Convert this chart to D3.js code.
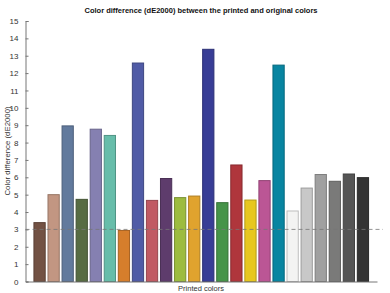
<!DOCTYPE html>
<head>
<title>Color difference</title>
<style>
  body { margin: 0; background: #fff; }
  svg text { font-family: "Liberation Sans", Arial, sans-serif; }
</style>
</head>
<body>
<svg width="390" height="293" id="chart"></svg>
<script src="https://d3js.org/d3.v7.min.js"></script>
<script>
// ColorChecker patches, in print order
var patchNames = ["dark skin", "light skin", "blue sky", "foliage", "blue flower", "bluish green",
  "orange", "purplish blue", "moderate red", "purple", "yellow green", "orange yellow",
  "blue", "green", "red", "yellow", "magenta", "cyan",
  "white", "neutral 8", "neutral 6.5", "neutral 5", "neutral 3.5", "black"];
var patchColors = ["#735244", "#c29682", "#627a9d", "#576c43", "#8580b1", "#67bdaa",
  "#d67e2c", "#505ba6", "#c15a63", "#5e3c6c", "#9dbc40", "#e0a32e",
  "#383d96", "#469449", "#af363c", "#e7c71f", "#bb5695", "#0885a1",
  "#f3f3f2", "#c8c8c8", "#a0a0a0", "#7a7a79", "#555555", "#343434"];
var dE = [3.39, 5.0, 8.96, 4.73, 8.77, 8.41,
  2.94, 12.58, 4.67, 5.93, 4.83, 4.92,
  13.37, 4.54, 6.71, 4.69, 5.81, 12.46,
  4.06, 5.38, 6.16, 5.77, 6.19, 5.98];
var yTicks = d3.range(0, 16);
var threshold = 3;

var svg = d3.select("#chart");

var x = d3.scaleLinear().domain([0, 25]).range([25.5, 377]);
var y = d3.scaleLinear().domain([0, 15]).range([281.5, 21]);
var barW = x(0.8) - x(0);

// bars
svg.selectAll(".bar")
  .data(dE)
  .enter().append("rect")
  .attr("class", "bar")
  .attr("x", function(d, i) { return x(i + 1) - barW / 2; })
  .attr("y", function(d) { return y(d); })
  .attr("width", barW)
  .attr("height", function(d) { return y(0) - y(d); })
  .style("fill", function(d, i) { return patchColors[i]; })
  .style("stroke", function(d, i) { return d3.color(patchColors[i]).darker(0.7); })
  .style("stroke-width", 1);

// threshold line
svg.append("line")
  .attr("x1", x(0)).attr("x2", 383)
  .attr("y1", y(threshold)).attr("y2", y(threshold))
  .style("stroke", "#777")
  .style("stroke-width", 0.8)
  .style("stroke-dasharray", "4,3");

// y axis, ticks pointing inward
var yAxis = svg.append("g")
  .attr("transform", "translate(" + x(0) + ",0)")
  .call(d3.axisLeft(y).tickValues(yTicks).tickSize(-3).tickPadding(7));
yAxis.select(".domain").style("stroke", "#777");
yAxis.selectAll(".tick line").style("stroke", "#777");
yAxis.selectAll(".tick text").style("font-size", "8px").style("fill", "#333");

// x axis line only
var xAxis = svg.append("g")
  .attr("transform", "translate(0," + y(0) + ")")
  .call(d3.axisBottom(x).tickValues([]).tickSizeOuter(0));
xAxis.select(".domain").style("stroke", "#777");

svg.append("text")
  .attr("x", 201).attr("y", 13)
  .attr("text-anchor", "middle")
  .style("font-size", "7.5px")
  .style("font-weight", "bold")
  .style("fill", "#111")
  .text("Color difference (dE2000) between the printed and original colors");

svg.append("text")
  .attr("x", 201).attr("y", 291)
  .attr("text-anchor", "middle")
  .style("font-size", "7.5px")
  .style("fill", "#333")
  .text("Printed colors");

svg.append("text")
  .attr("transform", "translate(10,151) rotate(-90)")
  .attr("text-anchor", "middle")
  .style("font-size", "7.8px")
  .style("fill", "#333")
  .text("Color difference (dE2000)");
</script>
</body>
